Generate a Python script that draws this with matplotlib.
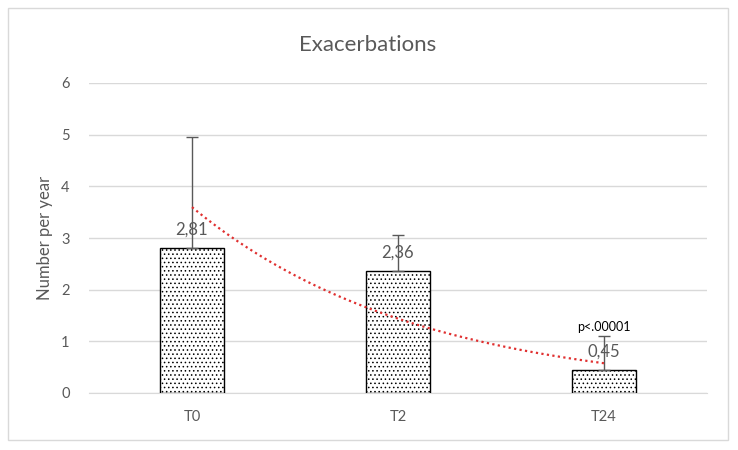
import matplotlib
matplotlib.use("Agg")
import matplotlib.pyplot as plt
import numpy as np
from matplotlib.patches import Rectangle

categories = ["T0", "T2", "T24"]
values = [2.81, 2.36, 0.45]
errors_up = [2.15, 0.70, 0.65]
value_labels = ["2,81", "2,36", "0,45"]
annotation = "p<.00001"
yticks = [0, 1, 2, 3, 4, 5, 6]

plt.rcParams['font.family'] = ['Lato', 'DejaVu Sans']
plt.rcParams['hatch.linewidth'] = 0.6

fig = plt.figure(figsize=(7.38, 4.5), dpi=100)
fig.patches.append(Rectangle((8/738, 10/450), 720/738, 432/450, transform=fig.transFigure,
                             fill=False, edgecolor='#d9d9d9', linewidth=1))
ax = fig.add_axes([89/738, 1-393/450, (707-89)/738, (393-83)/450])

x = np.arange(1, len(categories) + 1)
gray = '#595959'

ax.bar(x, values, width=0.315, color='white', edgecolor='black', hatch='....', linewidth=1, zorder=3)
ax.errorbar(x, values, yerr=[np.zeros(len(values)), errors_up], fmt='none',
            ecolor=gray, elinewidth=1, capsize=4, capthick=1, zorder=4)

# exponential trendline (fit of data)
b, a = np.polyfit(x, np.log(values), 1)
xs = np.linspace(x[0], x[-1], 100)
ax.plot(xs, np.exp(a + b * xs), linestyle=(0, (1, 1.5)), color='#e03030', linewidth=1.6, zorder=5)

for xi, v, lab in zip(x, values, value_labels):
    ax.text(xi, v + 0.2, lab, ha='center', va='bottom', fontsize=12, color=gray, zorder=6)
ax.text(x[-1], values[-1] + 0.72, annotation, ha='center', va='bottom', fontsize=9, color='black', zorder=6)

ax.set_xlim(0.5, len(categories) + 0.5)
ax.set_ylim(0, 6)
ax.set_yticks(yticks)
ax.set_xticks(x)
ax.set_xticklabels(categories)
ax.tick_params(axis='both', length=0, colors=gray, labelsize=10.5)
ax.tick_params(axis='y', pad=14)
ax.tick_params(axis='x', pad=12)
ax.grid(axis='y', color='#d9d9d9', linewidth=1, zorder=0)
for s in ['top', 'right', 'left']:
    ax.spines[s].set_visible(False)
ax.spines['bottom'].set_color('#d9d9d9')
ax.set_ylabel("Number per year", fontsize=12, color=gray, labelpad=6)
fig.text(368/738, 1-45/450, "Exacerbations", ha='center', va='center', fontsize=16, color=gray)

fig.savefig("out.png", dpi=100)
